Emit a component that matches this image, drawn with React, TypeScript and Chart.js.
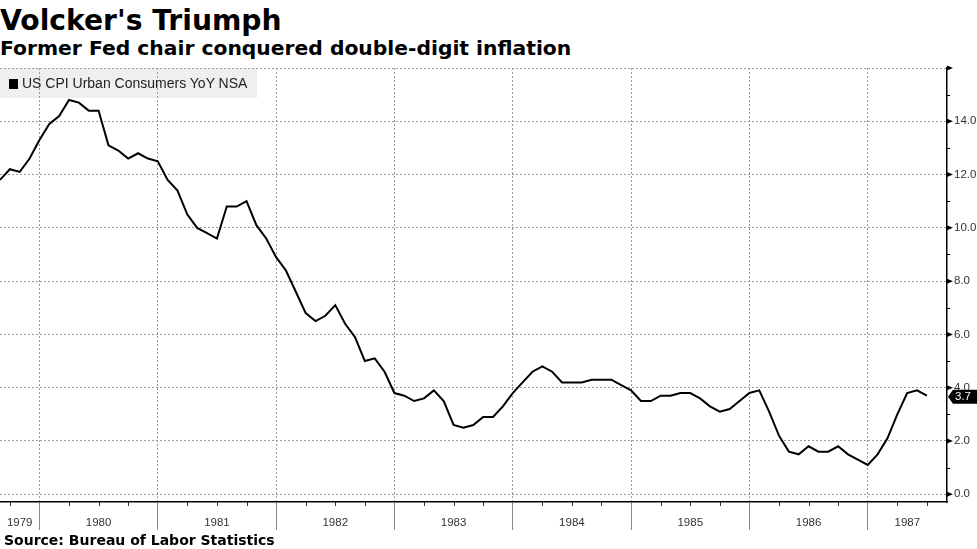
import React, { useEffect, useRef } from "react";
import { Chart, registerables } from "chart.js";

Chart.register(...registerables);

// Monthly observations (plotted at month end)
const months: string[] = [
  "1979-08", "1979-09", "1979-10", "1979-11", "1979-12",
  "1980-01", "1980-02", "1980-03", "1980-04", "1980-05", "1980-06", "1980-07", "1980-08", "1980-09", "1980-10", "1980-11", "1980-12",
  "1981-01", "1981-02", "1981-03", "1981-04", "1981-05", "1981-06", "1981-07", "1981-08", "1981-09", "1981-10", "1981-11", "1981-12",
  "1982-01", "1982-02", "1982-03", "1982-04", "1982-05", "1982-06", "1982-07", "1982-08", "1982-09", "1982-10", "1982-11", "1982-12",
  "1983-01", "1983-02", "1983-03", "1983-04", "1983-05", "1983-06", "1983-07", "1983-08", "1983-09", "1983-10", "1983-11", "1983-12",
  "1984-01", "1984-02", "1984-03", "1984-04", "1984-05", "1984-06", "1984-07", "1984-08", "1984-09", "1984-10", "1984-11", "1984-12",
  "1985-01", "1985-02", "1985-03", "1985-04", "1985-05", "1985-06", "1985-07", "1985-08", "1985-09", "1985-10", "1985-11", "1985-12",
  "1986-01", "1986-02", "1986-03", "1986-04", "1986-05", "1986-06", "1986-07", "1986-08", "1986-09", "1986-10", "1986-11", "1986-12",
  "1987-01", "1987-02", "1987-03", "1987-04", "1987-05", "1987-06",
];

const cpiYoY: number[] = [
  11.8, 12.2, 12.1, 12.6, 13.3,
  13.9, 14.2, 14.8, 14.7, 14.4, 14.4, 13.1, 12.9, 12.6, 12.8, 12.6, 12.5,
  11.8, 11.4, 10.5, 10.0, 9.8, 9.6, 10.8, 10.8, 11.0, 10.1, 9.6, 8.9,
  8.4, 7.6, 6.8, 6.5, 6.7, 7.1, 6.4, 5.9, 5.0, 5.1, 4.6, 3.8,
  3.7, 3.5, 3.6, 3.9, 3.5, 2.6, 2.5, 2.6, 2.9, 2.9, 3.3, 3.8,
  4.2, 4.6, 4.8, 4.6, 4.2, 4.2, 4.2, 4.3, 4.3, 4.3, 4.1, 3.9,
  3.5, 3.5, 3.7, 3.7, 3.8, 3.8, 3.6, 3.3, 3.1, 3.2, 3.5, 3.8,
  3.9, 3.1, 2.2, 1.6, 1.5, 1.8, 1.6, 1.6, 1.8, 1.5, 1.3, 1.1,
  1.5, 2.1, 3.0, 3.8, 3.9, 3.7,
];

const yearLabels: string[] = ["1979", "1980", "1981", "1982", "1983", "1984", "1985", "1986", "1987"];
const yearBoundaries: number[] = [1980, 1981, 1982, 1983, 1984, 1985, 1986, 1987];
const yTickValues: number[] = [0, 2, 4, 6, 8, 10, 12, 14, 16];
const yMinorValues: number[] = [1, 3, 5, 7, 9, 11, 13, 15];

const seriesName = "US CPI Urban Consumers YoY NSA";
const titleText = "Volcker's Triumph";
const subtitleText = "Former Fed chair conquered double-digit inflation";
const sourceText = "Source: Bureau of Labor Statistics";

const X_MIN = 1979 + 8 / 12;
const X_MAX = 1987.67;
const Y_MIN = -0.29;
const Y_MAX = 16;

const monthToX = (m: string) => {
  const [y, mo] = m.split("-").map(Number);
  return y + mo / 12;
};

const LABEL_FONT = '11.5px "Liberation Sans", Arial, sans-serif';

const decorPlugin = {
  id: "decor",
  afterDraw(chart: any) {
    const { ctx, chartArea } = chart;
    const xs = chart.scales.x;
    const ys = chart.scales.y;
    const right = chartArea.right;
    const bottom = chartArea.bottom;
    ctx.save();

    // x quarter minor ticks
    ctx.strokeStyle = "#333";
    ctx.lineWidth = 1;
    for (let yr = 1979; yr <= 1987; yr++) {
      for (const q of [0.25, 0.5, 0.75]) {
        const v = yr + q;
        if (v <= X_MIN || v >= X_MAX) continue;
        const px = Math.round(xs.getPixelForValue(v)) + 0.5;
        ctx.beginPath();
        ctx.moveTo(px, bottom);
        ctx.lineTo(px, bottom + 4);
        ctx.stroke();
      }
    }

    // year labels centered in visible part of each year
    ctx.fillStyle = "#333";
    ctx.font = LABEL_FONT;
    ctx.textAlign = "center";
    ctx.textBaseline = "middle";
    yearLabels.forEach((lab) => {
      const yr = Number(lab);
      const lo = Math.max(yr, X_MIN);
      const hi = Math.min(yr + 1, X_MAX);
      const cx = xs.getPixelForValue((lo + hi) / 2);
      ctx.fillText(lab, cx, bottom + 21);
    });

    // y major tick arrows
    ctx.fillStyle = "#000";
    yTickValues.forEach((v) => {
      const py = ys.getPixelForValue(v);
      ctx.beginPath();
      ctx.moveTo(right, py - 2.5);
      ctx.lineTo(right + 6, py);
      ctx.lineTo(right, py + 2.5);
      ctx.closePath();
      ctx.fill();
    });
    // y minor ticks
    ctx.strokeStyle = "#000";
    yMinorValues.forEach((v) => {
      const py = Math.round(ys.getPixelForValue(v)) + 0.5;
      ctx.beginPath();
      ctx.moveTo(right, py);
      ctx.lineTo(right + 3, py);
      ctx.stroke();
    });

    // last value tag
    const last = cpiYoY[cpiYoY.length - 1];
    const py = ys.getPixelForValue(last);
    const w = chart.width;
    ctx.fillStyle = "#000";
    ctx.beginPath();
    ctx.moveTo(right + 1, py + 1);
    ctx.lineTo(right + 6, py - 6);
    ctx.lineTo(w, py - 6);
    ctx.lineTo(w, py + 8);
    ctx.lineTo(right + 6, py + 8);
    ctx.closePath();
    ctx.fill();
    ctx.fillStyle = "#fff";
    ctx.textAlign = "left";
    ctx.textBaseline = "middle";
    ctx.font = LABEL_FONT;
    ctx.fillText(last.toFixed(1), right + 8, py + 1.5);

    ctx.restore();
  },
};

export default function App() {
  const canvasRef = useRef<HTMLCanvasElement | null>(null);

  useEffect(() => {
    if (!canvasRef.current) return;
    const data = months.map((m, i) => ({ x: monthToX(m), y: cpiYoY[i] }));
    const chart = new Chart(canvasRef.current, {
      type: "line",
      data: {
        datasets: [
          {
            label: seriesName,
            data,
            borderColor: "#000",
            borderWidth: 2,
            pointRadius: 0,
            tension: 0,
            fill: false,
          },
        ],
      },
      options: {
        animation: false,
        responsive: false,
        maintainAspectRatio: false,
        events: [],
        layout: { padding: { top: 68, left: 0, right: 0, bottom: 0 } },
        plugins: {
          legend: { display: false },
          tooltip: { enabled: false },
          title: { display: false },
        },
        scales: {
          x: {
            type: "linear",
            position: "bottom",
            min: X_MIN,
            max: X_MAX,
            afterBuildTicks: (s: any) => {
              s.ticks = yearBoundaries.map((v) => ({ value: v }));
            },
            afterFit: (s: any) => {
              s.height = 47;
            },
            ticks: { display: false },
            grid: {
              color: "#9a9a9a",
              lineWidth: 1,
              drawTicks: true,
              tickLength: 28,
              tickColor: "#8a8a8a",
              tickBorderDash: [],
              tickWidth: 1,
            },
            border: { display: true, color: "#000", width: 1.5, dash: [2, 2] },
          },
          y: {
            type: "linear",
            position: "right",
            min: Y_MIN,
            max: Y_MAX,
            afterBuildTicks: (s: any) => {
              s.ticks = yTickValues.map((v) => ({ value: v }));
            },
            afterFit: (s: any) => {
              s.width = 30;
            },
            ticks: {
              padding: 7,
              color: "#333",
              font: { family: '"Liberation Sans", Arial, sans-serif', size: 11.5 },
              callback: (v: any) => (Number(v) === 16 ? "" : Number(v).toFixed(1)),
            },
            grid: {
              color: "#9a9a9a",
              lineWidth: 1,
              drawTicks: false,
            },
            border: { display: true, color: "#000", width: 1.5, dash: [2, 2] },
          },
        },
      },
      plugins: [decorPlugin],
    });
    return () => chart.destroy();
  }, []);

  return (
    <div
      style={{
        position: "absolute",
        left: 0,
        top: 0,
        width: 977,
        height: 549,
        background: "#fff",
        overflow: "hidden",
      }}
    >
      <div
        style={{
          position: "absolute",
          left: 0,
          top: 3.8,
          font: 'bold 28.2px "DejaVu Sans", Verdana, sans-serif',
          color: "#000",
          whiteSpace: "nowrap",
        }}
      >
        {titleText}
      </div>
      <div
        style={{
          position: "absolute",
          left: 0,
          top: 36.2,
          font: 'bold 20.3px "DejaVu Sans", Verdana, sans-serif',
          color: "#000",
          whiteSpace: "nowrap",
        }}
      >
        {subtitleText}
      </div>
      <div
        style={{
          position: "absolute",
          left: 0,
          top: 68,
          width: 257,
          height: 30,
          background: "#efefef",
        }}
      />
      <canvas
        ref={canvasRef}
        width={977}
        height={549}
        style={{ position: "absolute", left: 0, top: 0, width: 977, height: 549 }}
      />
      <div
        style={{
          position: "absolute",
          left: 9,
          top: 79,
          width: 9,
          height: 10,
          background: "#000",
        }}
      />
      <div
        style={{
          position: "absolute",
          left: 22,
          top: 68,
          height: 30,
          font: '14px/30px "Liberation Sans", Arial, sans-serif',
          color: "#222",
          whiteSpace: "nowrap",
        }}
      >
        {seriesName}
      </div>
      <div
        style={{
          position: "absolute",
          left: 4,
          top: 532,
          font: 'bold 14px "DejaVu Sans", Verdana, sans-serif',
          color: "#000",
          whiteSpace: "nowrap",
        }}
      >
        {sourceText}
      </div>
    </div>
  );
}
